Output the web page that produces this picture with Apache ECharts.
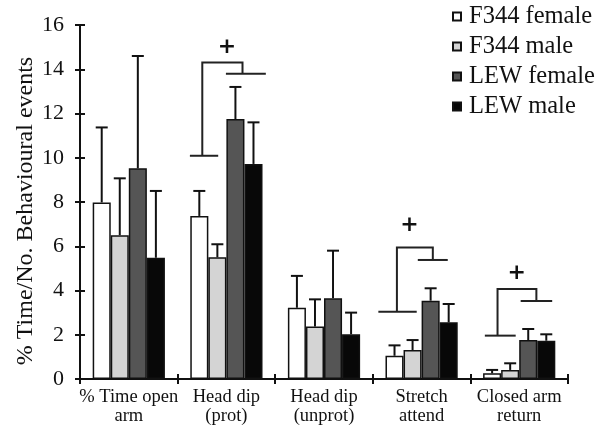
<!DOCTYPE html>
<html><head><meta charset="utf-8">
<script src="https://cdn.jsdelivr.net/npm/echarts@6/dist/echarts.min.js"></script>
<style>html,body{margin:0;padding:0;background:#fff}#c{width:610px;height:427px}</style>
</head><body><div id="c"></div>
<script>
// ---- data ----
const categories = ['% Time open\narm', 'Head dip\n(prot)', 'Head dip\n(unprot)', 'Stretch\nattend', 'Closed arm\nreturn'];
const seriesNames = ['F344 female', 'F344 male', 'LEW female', 'LEW male'];
const f344Female = [7.98, 7.37, 3.22, 1.05, 0.26];
const f344Male   = [6.5, 5.5, 2.37, 1.31, 0.41];
const lewFemale  = [9.52, 11.75, 3.65, 3.54, 1.76];
const lewMale    = [5.48, 9.72, 2.02, 2.56, 1.73];
// upper ends of error bars
const f344FemaleErrTop = [11.37, 8.5, 4.66, 1.52, 0.41];
const f344MaleErrTop   = [9.07, 6.09, 3.6, 1.76, 0.71];
const lewFemaleErrTop  = [14.6, 13.2, 5.8, 4.1, 2.26];
const lewMaleErrTop    = [8.5, 11.6, 3.0, 3.39, 2.02];
const yMin = 0, yMax = 16, yInterval = 2;
// significance brackets: [category index, lower level, top level, right level, plus level]
const brackets = [
  [1, 10.09, 14.3, 13.8, 15.0],
  [3, 3.04, 5.94, 5.38, 6.96],
  [4, 1.96, 4.07, 3.53, 4.78]
];

// ---- layout / style ----
const FONT = "'Liberation Serif','Times New Roman',serif";
const colors = ['#ffffff', '#d4d4d4', '#555555', '#080808'];
const catGap = 0.26;
const bracketLayout = [
  {lower: [-0.374, -0.084], left: -0.247, right: 0.165, rightLine: [-0.005, 0.404], plus: 0.005},
  {lower: [-0.443, -0.05], left: -0.253, right: 0.115, rightLine: [-0.039, 0.268], plus: -0.125},
  {lower: [-0.352, -0.036], left: -0.222, right: 0.176, rightLine: [0.015, 0.338], plus: -0.026}
];

const means = [f344Female, f344Male, lewFemale, lewMale];
const tops = [f344FemaleErrTop, f344MaleErrTop, lewFemaleErrTop, lewMaleErrTop];
const errData = [];
means.forEach((arr, s) => arr.forEach((v, c) => errData.push([c, s, v, tops[s][c]])));

function renderErr(params, api) {
  const cat = api.value(0), s = api.value(1), v = api.value(2), top = api.value(3);
  const band = api.size([1, 0])[0];
  const bw = band * (1 - catGap) / 4;
  const c = api.coord([cat, v]);
  const t = api.coord([cat, top]);
  const x = c[0] + (s - 1.5) * bw;
  const cap = 6;
  const st = {stroke: '#111', lineWidth: 2};
  return {type: 'group', children: [
    {type: 'line', shape: {x1: x, y1: c[1], x2: x, y2: t[1]}, style: st},
    {type: 'line', shape: {x1: x - cap, y1: t[1], x2: x + cap, y2: t[1]}, style: st}
  ]};
}

function renderBracket(params, api) {
  const L = bracketLayout[params.dataIndex];
  const cat = api.value(0);
  const band = api.size([1, 0])[0];
  const cx = api.coord([cat, 0])[0];
  const X = f => cx + f * band;
  const Y = v => api.coord([cat, v])[1];
  const lo = api.value(1), tp = api.value(2), rt = api.value(3), pl = api.value(4);
  const st = {stroke: '#222', lineWidth: 2, fill: null};
  return {type: 'group', children: [
    {type: 'line', shape: {x1: X(L.lower[0]), y1: Y(lo), x2: X(L.lower[1]), y2: Y(lo)}, style: st},
    {type: 'polyline', shape: {points: [[X(L.left), Y(lo)], [X(L.left), Y(tp)], [X(L.right), Y(tp)], [X(L.right), Y(rt)]]}, style: st},
    {type: 'line', shape: {x1: X(L.rightLine[0]), y1: Y(rt), x2: X(L.rightLine[1]), y2: Y(rt)}, style: st},
    {type: 'text', x: X(L.plus), y: Y(pl), style: {text: '+', fontSize: 22, fontWeight: 'bold', fontFamily: "'DejaVu Sans',sans-serif", fill: '#111', align: 'center', verticalAlign: 'middle'}}
  ]};
}

const axisCommon = {
  axisLine: {show: true, lineStyle: {color: '#111', width: 2}},
  splitLine: {show: false}
};

const chart = echarts.init(document.getElementById('c'), null, {renderer: 'canvas'});
chart.setOption({
  animation: false,
  backgroundColor: '#fff',
  textStyle: {fontFamily: FONT, color: '#111'},
  grid: {left: 80, right: 42, top: 25, bottom: 48, containLabel: false},
  legend: {
    orient: 'vertical', left: 452, top: 4, padding: 0,
    data: seriesNames,
    icon: 'rect', itemWidth: 8, itemHeight: 8, itemGap: 5,
    textStyle: {fontFamily: FONT, fontSize: 24.5, color: '#111', lineHeight: 22, padding: [0, 0, 0, 3]}
  },
  xAxis: [
    Object.assign({
      type: 'category', data: categories,
      axisTick: {show: true, length: 5, lineStyle: {color: '#111', width: 2}},
      axisLabel: {interval: 0, fontFamily: FONT, fontSize: 18.5, color: '#111', lineHeight: 18.5, margin: 9}
    }, axisCommon),
    Object.assign({
      type: 'category', data: categories, position: 'bottom',
      axisTick: {show: true, inside: true, length: 5, lineStyle: {color: '#111', width: 2}},
      axisLabel: {show: false}
    }, axisCommon)
  ],
  yAxis: [
    Object.assign({
      type: 'value', min: yMin, max: yMax, interval: yInterval,
      name: '% Time/No. Behavioural events', nameLocation: 'middle', nameGap: 42, nameMoveOverlap: false,
      nameTextStyle: {fontFamily: FONT, fontSize: 24, color: '#111', padding: [0, 18, 0, 0]},
      axisTick: {show: true, length: 5, lineStyle: {color: '#111', width: 2}},
      axisLabel: {fontFamily: FONT, fontSize: 22, color: '#111', margin: 16}
    }, axisCommon),
    Object.assign({
      type: 'value', min: yMin, max: yMax, interval: yInterval, position: 'left',
      axisTick: {show: true, inside: true, length: 5, lineStyle: {color: '#111', width: 2}},
      axisLabel: {show: false}
    }, axisCommon)
  ],
  series: means.map((arr, i) => ({
    name: seriesNames[i], type: 'bar', data: arr,
    barGap: '0%', barCategoryGap: (catGap * 100) + '%',
    itemStyle: {color: colors[i], borderColor: '#111', borderWidth: 1.5}
  })).concat([
    {type: 'custom', data: errData, renderItem: renderErr, encode: {x: 0, y: 2}, z: 3, silent: true},
    {type: 'custom', data: brackets, renderItem: renderBracket, encode: {x: 0, y: 2}, z: 3, silent: true, clip: false}
  ])
});
</script>
</body></html>
